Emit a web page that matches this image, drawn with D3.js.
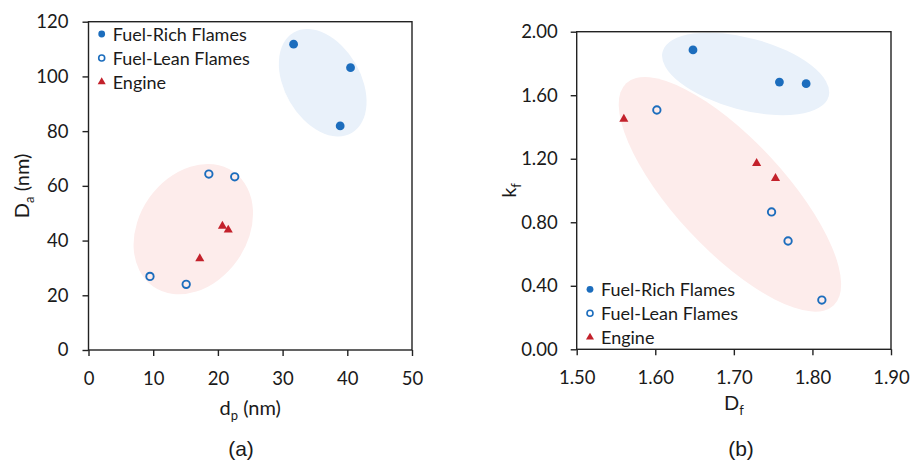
<!DOCTYPE html>
<html>
<head>
<meta charset="utf-8">
<script src="https://cdn.jsdelivr.net/npm/d3@7"></script>
<style>
  body { margin: 0; background: #fff; }
  svg text { font-family: "Lato", "Open Sans", sans-serif; fill: #1a1a1a; }
</style>
</head>
<body>
<div id="chart"></div>
<script>
// panel (a): primary particle diameter vs aggregate diameter
const richDp = [31.7, 40.5, 38.9];
const richDa = [111.8, 103.2, 81.9];
const leanDp = [9.5, 15.1, 18.6, 22.6];
const leanDa = [26.9, 24.0, 64.3, 63.3];
const engDp = [17.2, 20.7, 21.6];
const engDa = [33.4, 45.3, 43.9];
const dpTicks = [0, 10, 20, 30, 40, 50];
const daTicks = [0, 20, 40, 60, 80, 100, 120];

// panel (b): fractal dimension vs prefactor
const richDf = [1.648, 1.758, 1.792];
const richKf = [1.885, 1.683, 1.673];
const leanDf = [1.602, 1.748, 1.769, 1.812];
const leanKf = [1.507, 0.865, 0.682, 0.310];
const engDf = [1.560, 1.729, 1.753];
const engKf = [1.45, 1.171, 1.077];
const dfTicks = [1.5, 1.6, 1.7, 1.8, 1.9];
const kfTicks = [0, 0.4, 0.8, 1.2, 1.6, 2.0];

// cluster shading centres (data units)
const clusterA = [{ x: 36.2, y: 97.7, type: "rich" }, { x: 16.2, y: 44.2, type: "other" }];
const clusterB = [{ x: 1.715, y: 1.734, type: "rich" }, { x: 1.695, y: 0.976, type: "other" }];

const seriesNames = ["Fuel-Rich Flames", "Fuel-Lean Flames", "Engine"];

const blue = "#1c6dbd";
const red = "#c3212b";

const width = 912;
const height = 462;

const svg = d3.select("#chart")
  .append("svg")
  .attr("width", width)
  .attr("height", height);

function zip(xs, ys) {
  return xs.map((x, i) => ({ x: x, y: ys[i] }));
}

function drawPanel(cfg) {
  const x = d3.scaleLinear().domain(cfg.xDomain).range([cfg.left, cfg.right]);
  const y = d3.scaleLinear().domain(cfg.yDomain).range([cfg.bottom, cfg.top]);
  const g = svg.append("g");

  // shaded clusters
  g.selectAll("ellipse")
    .data(cfg.clusters)
    .join("ellipse")
    .attr("cx", 0)
    .attr("cy", 0)
    .attr("rx", (d, i) => cfg.ellipses[i].rx)
    .attr("ry", (d, i) => cfg.ellipses[i].ry)
    .attr("transform", (d, i) => `translate(${x(d.x)},${y(d.y)}) rotate(${cfg.ellipses[i].rot})`)
    .attr("fill", d => d.type === "rich" ? "#e9f1fa" : "#fdeceb");

  // frame
  g.append("rect")
    .attr("x", cfg.left)
    .attr("y", cfg.top)
    .attr("width", cfg.right - cfg.left)
    .attr("height", cfg.bottom - cfg.top)
    .attr("fill", "none")
    .attr("stroke", "#222")
    .attr("stroke-width", 1.4);

  // axes
  const xAxis = g.append("g")
    .attr("transform", `translate(0,${cfg.bottom})`)
    .call(d3.axisBottom(x).tickValues(cfg.xTicks).tickFormat(cfg.xFormat)
      .tickSize(6).tickSizeOuter(0).tickPadding(16));
  const yAxis = g.append("g")
    .attr("transform", `translate(${cfg.left},0)`)
    .call(d3.axisLeft(y).tickValues(cfg.yTicks).tickFormat(cfg.yFormat)
      .tickSize(6).tickSizeOuter(0).tickPadding(cfg.yPad));
  [xAxis, yAxis].forEach(a => {
    a.select(".domain").remove();
    a.selectAll("line").attr("stroke", "#222").attr("stroke-width", 1.4);
    a.selectAll("text").style("font-size", "18.5px").attr("fill", "#1a1a1a");
  });

  // series
  g.selectAll(".rich")
    .data(cfg.rich)
    .join("circle")
    .attr("cx", d => x(d.x))
    .attr("cy", d => y(d.y))
    .attr("r", 4.4)
    .attr("fill", blue);

  g.selectAll(".lean")
    .data(cfg.lean)
    .join("circle")
    .attr("cx", d => x(d.x))
    .attr("cy", d => y(d.y))
    .attr("r", 3.7)
    .attr("fill", "none")
    .attr("stroke", blue)
    .attr("stroke-width", 1.9);

  const tri = d3.symbol().type(d3.symbolTriangle).size(36);
  g.selectAll(".eng")
    .data(cfg.engine)
    .join("path")
    .attr("d", tri)
    .attr("transform", d => `translate(${x(d.x)},${y(d.y)})`)
    .attr("fill", red);

  // axis titles
  g.append("text")
    .attr("x", (cfg.left + cfg.right) / 2)
    .attr("y", cfg.xTitleY)
    .attr("text-anchor", "middle")
    .style("font-size", "20px")
    .call(t => {
      t.append("tspan").text(cfg.xTitle[0]);
      t.append("tspan").attr("dy", 5).style("font-size", "13px").text(cfg.xTitle[1]);
      if (cfg.xTitle[2]) t.append("tspan").attr("dy", -5).text(cfg.xTitle[2]);
    });

  g.append("text")
    .attr("transform", `translate(${cfg.yTitleX},${(cfg.top + cfg.bottom) / 2}) rotate(-90)`)
    .attr("text-anchor", "middle")
    .style("font-size", "20px")
    .call(t => {
      t.append("tspan").text(cfg.yTitle[0]);
      t.append("tspan").attr("dy", 5).style("font-size", "13px").text(cfg.yTitle[1]);
      if (cfg.yTitle[2]) t.append("tspan").attr("dy", -5).text(cfg.yTitle[2]);
    });

  // legend
  const leg = g.append("g").attr("transform", `translate(${cfg.legX},${cfg.legY})`);
  seriesNames.forEach((name, i) => {
    const row = leg.append("g").attr("transform", `translate(0,${i * 24})`);
    if (i === 0) row.append("circle").attr("r", 3.4).attr("fill", blue);
    if (i === 1) row.append("circle").attr("r", 3).attr("fill", "none")
      .attr("stroke", blue).attr("stroke-width", 1.6);
    if (i === 2) row.append("path").attr("d", d3.symbol().type(d3.symbolTriangle).size(28)).attr("fill", red);
    row.append("text")
      .attr("x", 11)
      .attr("y", 6.5)
      .style("font-size", "18px")
      .text(name);
  });

  // panel label
  g.append("text")
    .attr("x", cfg.labelX)
    .attr("y", 456)
    .attr("text-anchor", "middle")
    .style("font-family", "'Liberation Sans', Arial, sans-serif")
    .style("font-size", "21px")
    .text(cfg.label);
}

drawPanel({
  xDomain: [0, 50], yDomain: [0, 120],
  left: 88.5, right: 412, top: 21.7, bottom: 350,
  xTicks: dpTicks, yTicks: daTicks,
  xFormat: d3.format("d"), yFormat: d3.format("d"),
  yPad: 14,
  rich: zip(richDp, richDa), lean: zip(leanDp, leanDa), engine: zip(engDp, engDa),
  clusters: clusterA,
  ellipses: [{ rx: 58, ry: 38, rot: 60 }, { rx: 70, ry: 54, rot: -55 }],
  xTitle: ["d", "p", " (nm)"], yTitle: ["D", "a", " (nm)"],
  xTitleY: 415, yTitleX: 29,
  legX: 101.7, legY: 34,
  label: "(a)", labelX: 241
});

drawPanel({
  xDomain: [1.5, 1.9], yDomain: [0, 2],
  left: 576.7, right: 891, top: 31.7, bottom: 349.3,
  xTicks: dfTicks, yTicks: kfTicks,
  xFormat: d3.format(".2f"), yFormat: d3.format(".2f"),
  yPad: 13,
  rich: zip(richDf, richKf), lean: zip(leanDf, leanKf), engine: zip(engDf, engKf),
  clusters: clusterB,
  ellipses: [{ rx: 86, ry: 36, rot: 15 }, { rx: 152, ry: 55, rot: 47 }],
  xTitle: ["D", "f"], yTitle: ["k", "f"],
  xTitleY: 410, yTitleX: 516,
  legX: 590, legY: 289.3,
  label: "(b)", labelX: 741
});
</script>
</body>
</html>
